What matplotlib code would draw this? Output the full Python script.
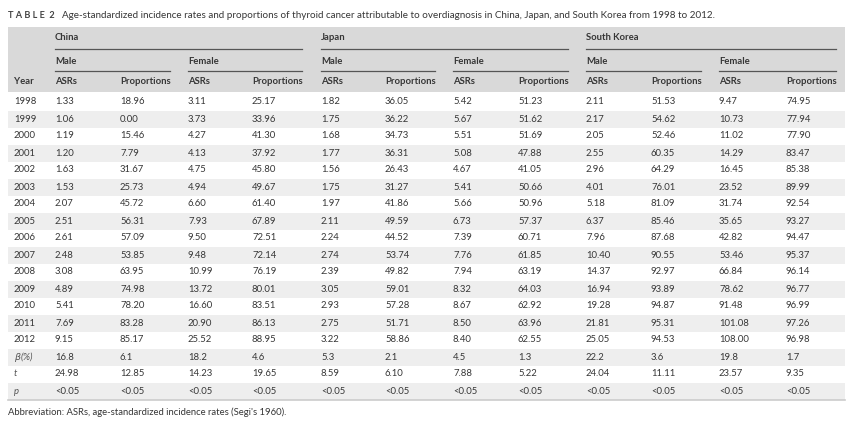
import matplotlib.pyplot as plt
from matplotlib.patches import Rectangle

plt.rcParams['font.family'] = ['Lato', 'DejaVu Sans']

# table data
years = [1998, 1999, 2000, 2001, 2002, 2003, 2004, 2005, 2006, 2007, 2008, 2009, 2010, 2011, 2012]

china_m_asr = ["1.33", "1.06", "1.19", "1.20", "1.63", "1.53", "2.07", "2.51", "2.61", "2.48", "3.08", "4.89", "5.41", "7.69", "9.15"]
china_m_prop = ["18.96", "0.00", "15.46", "7.79", "31.67", "25.73", "45.72", "56.31", "57.09", "53.85", "63.95", "74.98", "78.20", "83.28", "85.17"]
china_f_asr = ["3.11", "3.73", "4.27", "4.13", "4.75", "4.94", "6.60", "7.93", "9.50", "9.48", "10.99", "13.72", "16.60", "20.90", "25.52"]
china_f_prop = ["25.17", "33.96", "41.30", "37.92", "45.80", "49.67", "61.40", "67.89", "72.51", "72.14", "76.19", "80.01", "83.51", "86.13", "88.95"]

japan_m_asr = ["1.82", "1.75", "1.68", "1.77", "1.56", "1.75", "1.97", "2.11", "2.24", "2.74", "2.39", "3.05", "2.93", "2.75", "3.22"]
japan_m_prop = ["36.05", "36.22", "34.73", "36.31", "26.43", "31.27", "41.86", "49.59", "44.52", "53.74", "49.82", "59.01", "57.28", "51.71", "58.86"]
japan_f_asr = ["5.42", "5.67", "5.51", "5.08", "4.67", "5.41", "5.66", "6.73", "7.39", "7.76", "7.94", "8.32", "8.67", "8.50", "8.40"]
japan_f_prop = ["51.23", "51.62", "51.69", "47.88", "41.05", "50.66", "50.96", "57.37", "60.71", "61.85", "63.19", "64.03", "62.92", "63.96", "62.55"]

korea_m_asr = ["2.11", "2.17", "2.05", "2.55", "2.96", "4.01", "5.18", "6.37", "7.96", "10.40", "14.37", "16.94", "19.28", "21.81", "25.05"]
korea_m_prop = ["51.53", "54.62", "52.46", "60.35", "64.29", "76.01", "81.09", "85.46", "87.68", "90.55", "92.97", "93.89", "94.87", "95.31", "94.53"]
korea_f_asr = ["9.47", "10.73", "11.02", "14.29", "16.45", "23.52", "31.74", "35.65", "42.82", "53.46", "66.84", "78.62", "91.48", "101.08", "108.00"]
korea_f_prop = ["74.95", "77.94", "77.90", "83.47", "85.38", "89.99", "92.54", "93.27", "94.47", "95.37", "96.14", "96.77", "96.99", "97.26", "96.98"]

beta_row = ["16.8", "6.1", "18.2", "4.6", "5.3", "2.1", "4.5", "1.3", "22.2", "3.6", "19.8", "1.7"]
t_row = ["24.98", "12.85", "14.23", "19.65", "8.59", "6.10", "7.88", "5.22", "24.04", "11.11", "23.57", "9.35"]
p_row = ["<0.05"] * 12

countries = ["China", "Japan", "South Korea"]
sexes = ["Male", "Female"]
col_names = ["ASRs", "Proportions"]

columns = [china_m_asr, china_m_prop, china_f_asr, china_f_prop,
           japan_m_asr, japan_m_prop, japan_f_asr, japan_f_prop,
           korea_m_asr, korea_m_prop, korea_f_asr, korea_f_prop]

# layout (pixels)
col_x = [55, 120, 188, 252, 321, 385, 453, 518, 586, 651, 719, 786]
year_x = 14
left, right = 8, 845
row0, row_h = 102, 17
fs = 6.8
txt = '#363636'

fig = plt.figure(figsize=(8.5, 4.3), dpi=100)
ax = fig.add_axes([0, 0, 1, 1])
ax.set_xlim(0, 850)
ax.set_ylim(430, 0)
ax.axis('off')

# title
ax.text(8, 15, "T A B L E  2", fontsize=6.6, fontweight='bold', color='#444444', va='center', ha='left')
ax.text(62, 15, "Age-standardized incidence rates and proportions of thyroid cancer attributable to overdiagnosis "
        "in China, Japan, and South Korea from 1998 to 2012.", fontsize=7.1, color=txt, va='center', ha='left')

# header box
ax.add_patch(Rectangle((left, 27), right - left, 65, facecolor='#d9d9d9', edgecolor='none'))
for i, c in enumerate(countries):
    x0 = col_x[4 * i]
    x1 = col_x[4 * i + 3] + 50
    ax.text(x0, 38, c, fontsize=fs, fontweight='bold', color=txt, va='center')
    ax.plot([x0, x1], [49, 49], color='#555555', lw=0.9)
    for j, s in enumerate(sexes):
        sx0 = col_x[4 * i + 2 * j]
        sx1 = col_x[4 * i + 2 * j + 1] + 50
        ax.text(sx0, 61, s, fontsize=fs, fontweight='bold', color=txt, va='center')
        ax.plot([sx0, sx1], [71, 71], color='#555555', lw=0.9)
ax.text(year_x, 82, "Year", fontsize=fs, fontweight='bold', color=txt, va='center')
for k, x in enumerate(col_x):
    ax.text(x, 82, col_names[k % 2], fontsize=fs, fontweight='bold', color=txt, va='center')

# body rows
labels = [str(y) for y in years] + [r"$\beta$(%)", "t", "p"]
n_rows = len(labels)
for r in range(n_rows):
    y = row0 + r * row_h
    if r % 2 == 1:
        ax.add_patch(Rectangle((left, y - row_h / 2), right - left, row_h,
                               facecolor='#eeeeee', edgecolor='none'))
    if r < len(years):
        vals = [col[r] for col in columns]
        ax.text(year_x, y, labels[r], fontsize=fs, color=txt, va='center')
    else:
        vals = [beta_row, t_row, p_row][r - len(years)]
        ax.text(year_x, y, labels[r], fontsize=fs, color='#555555', va='center', style='italic')
    for x, v in zip(col_x, vals):
        ax.text(x, y, v, fontsize=fs, color=txt, va='center')

bottom = row0 + (n_rows - 1) * row_h + row_h / 2
ax.plot([left, right], [bottom, bottom], color='#cccccc', lw=1.2)

ax.text(8, 412, "Abbreviation: ASRs, age-standardized incidence rates (Segi's 1960).",
        fontsize=6.8, color=txt, va='center')

fig.savefig("out.png", dpi=100, facecolor='white')
